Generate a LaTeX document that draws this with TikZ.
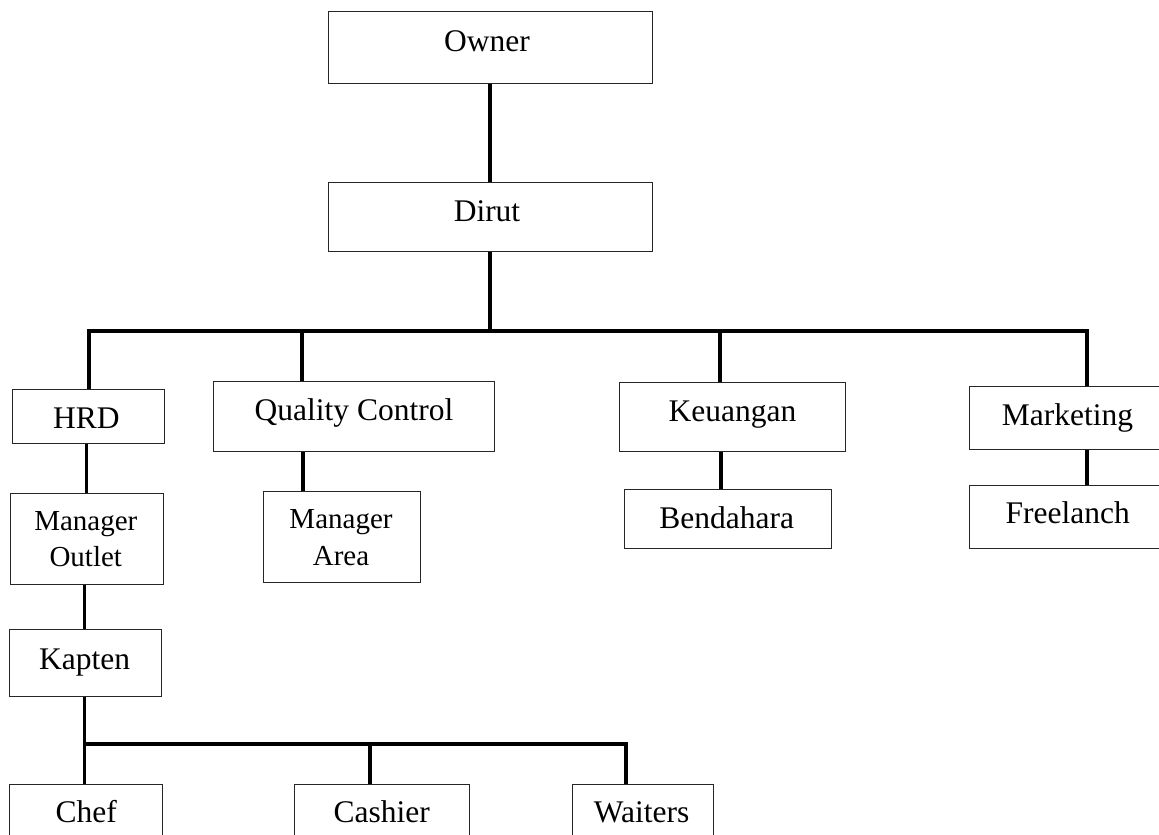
\documentclass[tikz,border=0pt]{standalone}
\usepackage{fontspec}
\setmainfont{Liberation Serif}
\begin{document}
\begin{tikzpicture}[x=1pt,y=-1pt,
  orgbox/.style={draw=black!85,line width=1pt,fill=none,inner sep=0pt,anchor=north west},
  conn/.style={line width=3.2pt,black},
  lbl/.style={inner sep=0pt,anchor=base,font=\fontsize{31.5}{37}\selectfont},
  lbls/.style={inner sep=0pt,anchor=base,font=\fontsize{29}{34}\selectfont}]
\useasboundingbox (0,0) rectangle (1159,835);
\clip (0,0) rectangle (1159,835);
\fill[white] (0,0) rectangle (1159,835);
% boxes
\node[orgbox,minimum width=324pt,minimum height=72pt] (owner) at (328,11) {};
\node[orgbox,minimum width=324pt,minimum height=69pt] (dirut) at (328,182) {};
\node[orgbox,minimum width=152pt,minimum height=54pt] (hrd) at (12,389) {};
\node[orgbox,minimum width=281pt,minimum height=70pt] (qc) at (213,381) {};
\node[orgbox,minimum width=226pt,minimum height=69pt] (keu) at (619,382) {};
\node[orgbox,minimum width=190pt,minimum height=63pt] (mkt) at (969,386) {};
\node[orgbox,minimum width=153pt,minimum height=91pt] (mo) at (10,493) {};
\node[orgbox,minimum width=157pt,minimum height=91pt] (ma) at (263,491) {};
\node[orgbox,minimum width=207pt,minimum height=59pt] (bend) at (624,489) {};
\node[orgbox,minimum width=190pt,minimum height=63pt] (free) at (969,485) {};
\node[orgbox,minimum width=152pt,minimum height=67pt] (kapten) at (9,629) {};
\node[orgbox,minimum width=153pt,minimum height=80pt] (chef) at (9,784) {};
\node[orgbox,minimum width=175pt,minimum height=80pt] (cash) at (294,784) {};
\node[orgbox,minimum width=141pt,minimum height=80pt] (wait) at (572,784) {};
% labels
\node[lbl] (ownert) at (487,51.7) {Owner};
\node[lbl] (dirutt) at (487,221.7) {Dirut};
\node[lbl] (hrdt) at (86.3,428.3) {HRD};
\node[lbl] (qct) at (354,420.7) {Quality Control};
\node[lbl] (keut) at (732.5,421.7) {Keuangan};
\node[lbl] (mktt) at (1067.5,425) {Marketing};
\node[lbls] (mot1) at (85.8,530) {Manager};
\node[lbls] (mot2) at (85.8,566.7) {Outlet};
\node[lbls] (mat1) at (341,528.3) {Manager};
\node[lbls] (mat2) at (341,565) {Area};
\node[lbl] (bendt) at (726.8,528.3) {Bendahara};
\node[lbl] (freet) at (1067.8,523.3) {Freelanch};
\node[lbl] (kaptent) at (84.7,669) {Kapten};
\node[lbl] (cheft) at (86.2,822.7) {Chef};
\node[lbl] (casht) at (381.7,822.7) {Cashier};
\node[lbl] (waitt) at (641.7,822.7) {Waiters};
% bus coordinates
\coordinate (b0) at (490,331);
\coordinate (bL) at (89,331);
\coordinate (bQ) at (302,331);
\coordinate (bK) at (720,331);
\coordinate (bR) at (1087,331);
\coordinate (cL) at (84.5,744);
\coordinate (cC) at (370,744);
\coordinate (cR) at (626,744);
% connectors
\draw[conn] (b0 |- owner.south) -- (b0 |- dirut.north);
\draw[conn] (b0 |- dirut.south) -- (b0);
\draw[conn] (bL |- hrd.north) -- (bL) -- (bR) -- (bR |- mkt.north);
\draw[conn] (bQ) -- (bQ |- qc.north);
\draw[conn] (bK) -- (bK |- keu.north);
\draw[conn] ([xshift=-2pt]hrd.south) -- ([xshift=-2pt]hrd.south |- mo.north);
\draw[conn] ([xshift=1pt]bQ |- qc.south) -- ([xshift=1pt]bQ |- ma.north);
\draw[conn] ([xshift=1pt]bK |- keu.south) -- ([xshift=1pt]bK |- bend.north);
\draw[conn] (bR |- mkt.south) -- (bR |- free.north);
\draw[conn] (cL |- mo.south) -- (cL |- kapten.north);
\draw[conn] (cL |- kapten.south) -- (cL |- chef.north);
\draw[conn] (cL) -- (cR) -- (cR |- wait.north);
\draw[conn] (cC) -- (cC |- cash.north);
\end{tikzpicture}
\end{document}
